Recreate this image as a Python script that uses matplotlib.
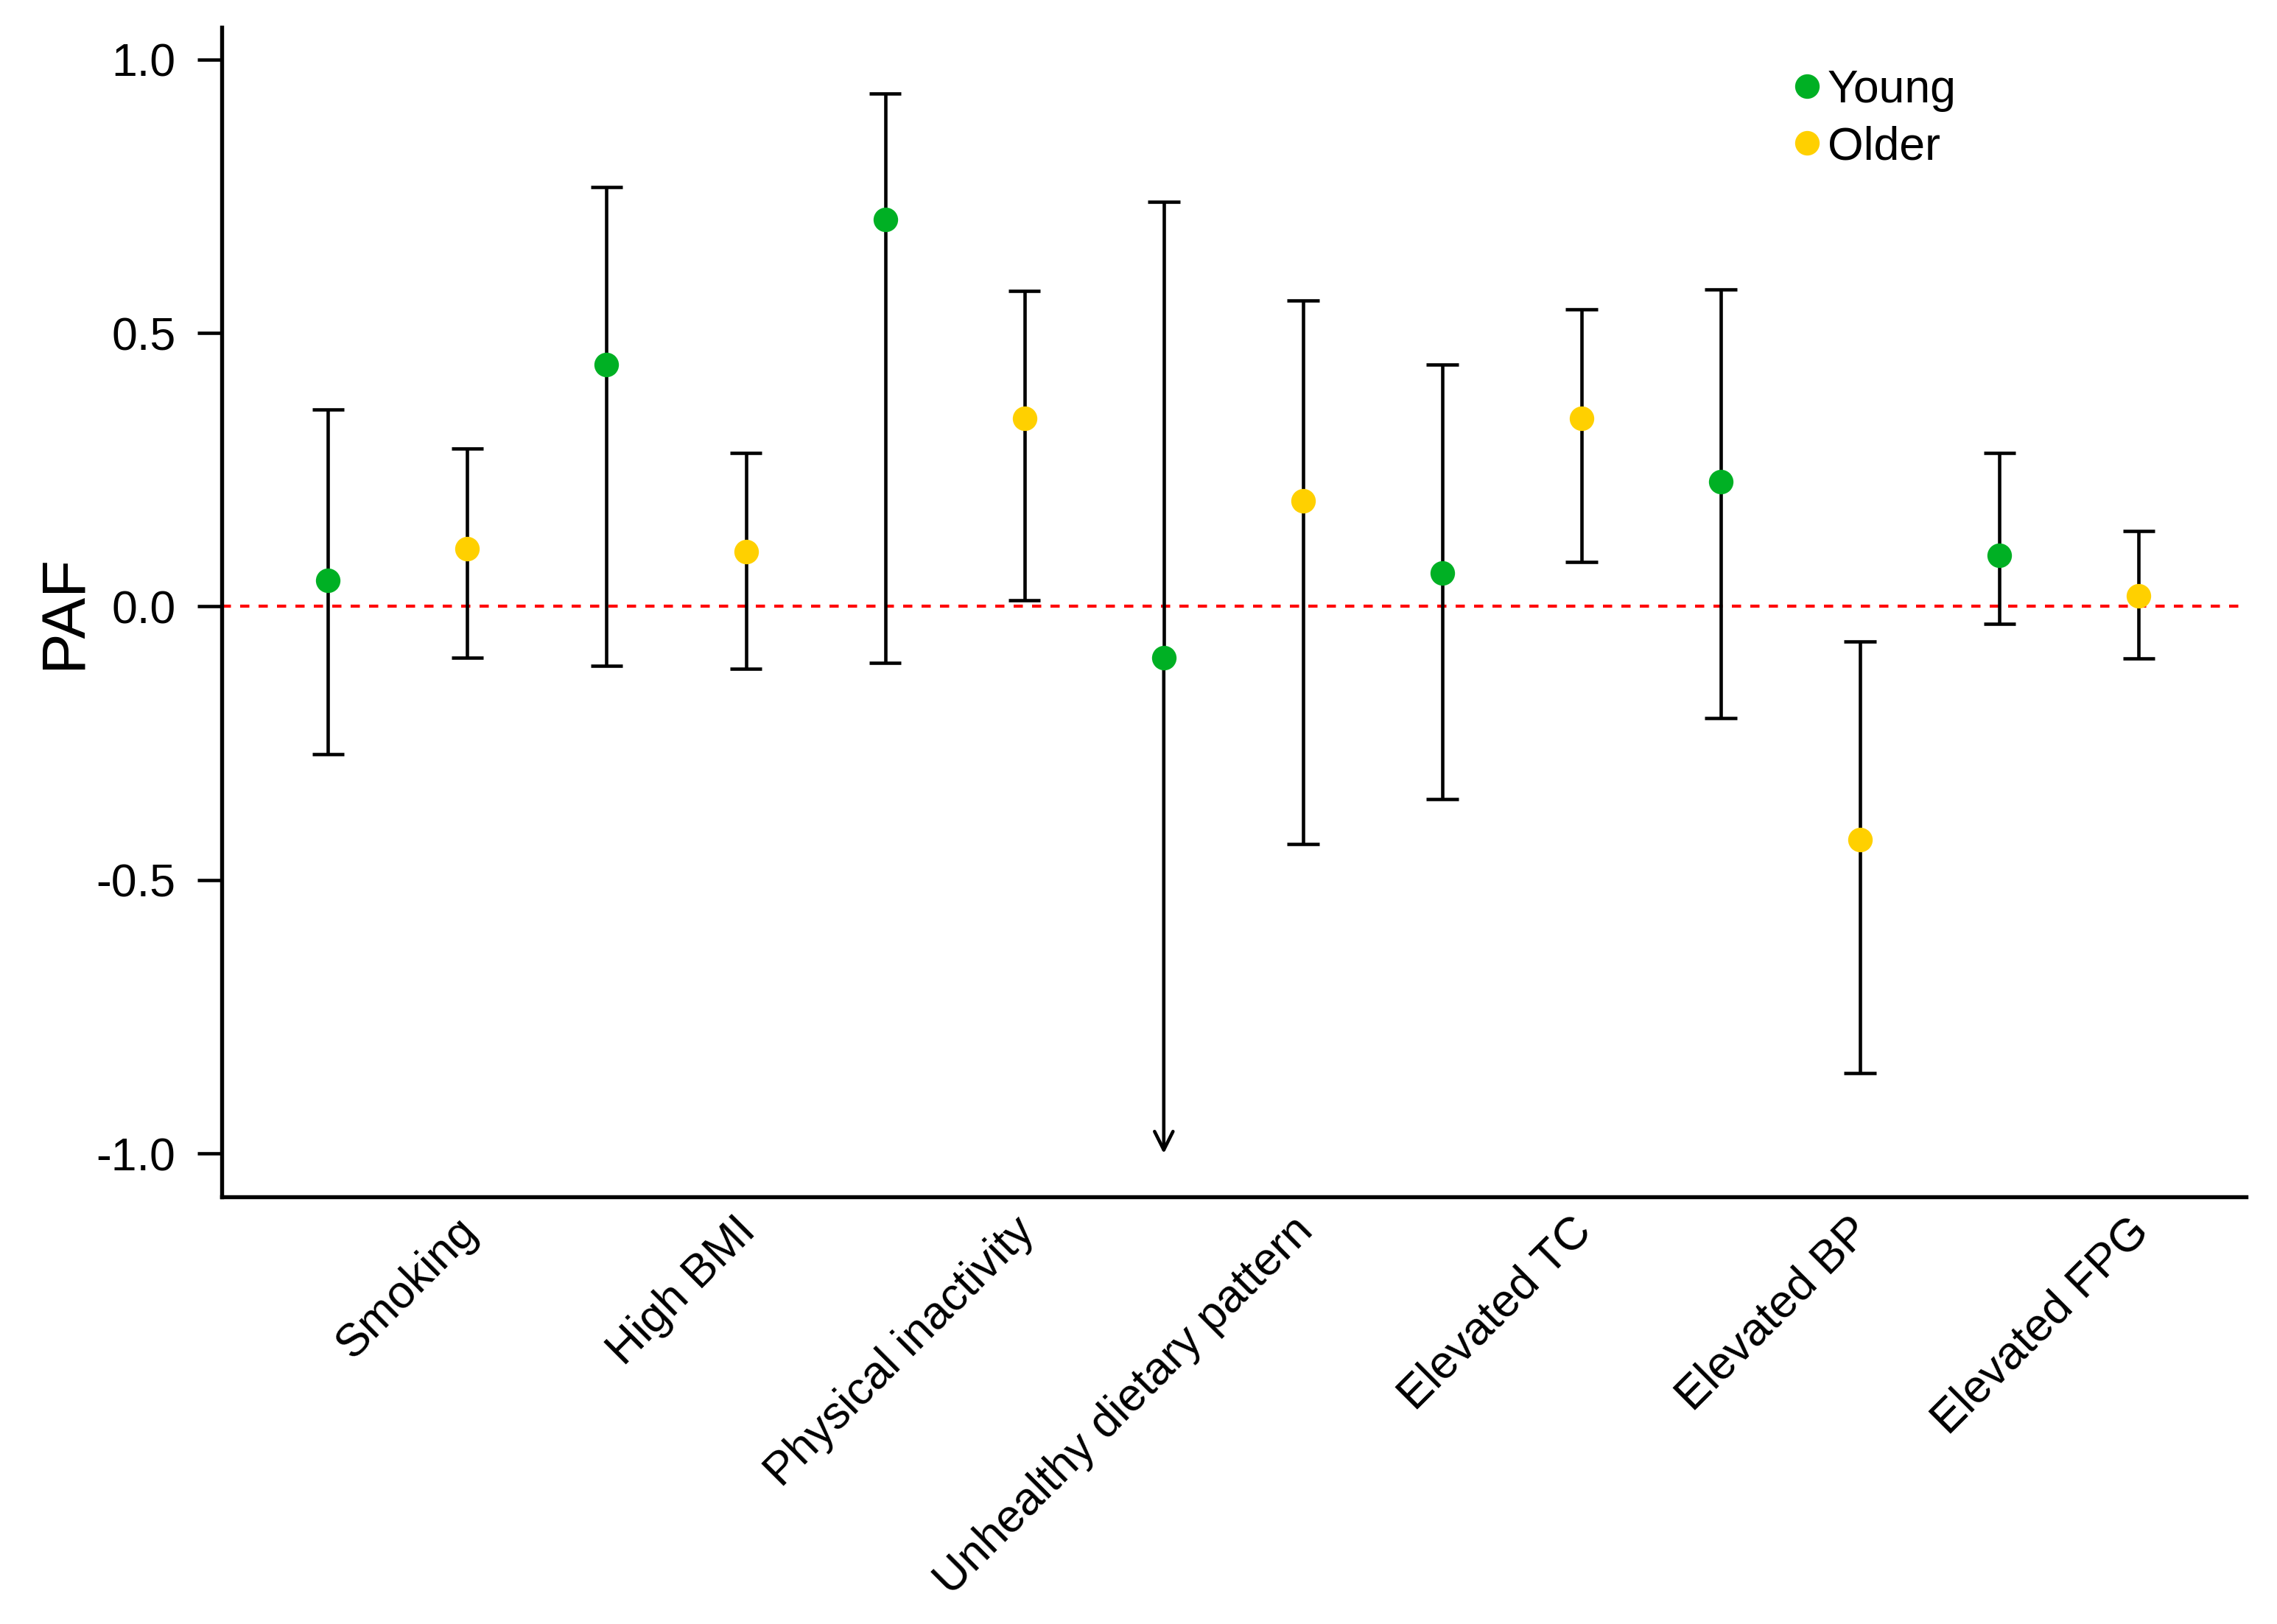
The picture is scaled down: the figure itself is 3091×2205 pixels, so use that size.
import matplotlib
matplotlib.use('Agg')
import matplotlib.pyplot as plt
from matplotlib.transforms import ScaledTranslation

# Data
factors = ['Smoking', 'High BMI', 'Physical inactivity', 'Unhealthy dietary pattern',
           'Elevated TC', 'Elevated BP', 'Elevated FPG']
young_paf = [0.048, 0.442, 0.707, -0.093, 0.061, 0.228, 0.093]
young_low = [-0.27, -0.109, -0.103, -1.0, -0.352, -0.204, -0.032]
young_high = [0.36, 0.766, 0.938, 0.739, 0.442, 0.580, 0.281]
older_paf = [0.106, 0.100, 0.344, 0.193, 0.344, -0.426, 0.019]
older_low = [-0.093, -0.114, 0.011, -0.434, 0.082, -0.853, -0.095]
older_high = [0.289, 0.281, 0.577, 0.559, 0.543, -0.064, 0.138]
truncated_young = [False, False, False, True, False, False, False]

green = '#00B024'
yellow = '#FFD000'
font_size = 15

plt.rcParams['font.family'] = 'Liberation Sans'

fig = plt.figure(figsize=(3091 / 300, 2205 / 300), dpi=300)
ax = fig.add_axes([0.0974, 0.263, 0.889, 0.720])

x_young = [2 * i + 1 for i in range(len(factors))]
x_older = [2 * i + 2 for i in range(len(factors))]

ax.axhline(0, color='red', linestyle=(0, (3, 3)), linewidth=1.0, zorder=1)

cap = 0.115
for i in range(len(factors)):
    # young
    xv = x_young[i]
    ax.vlines(xv, young_paf[i], young_high[i], color='black', linewidth=1.1, zorder=2)
    ax.hlines(young_high[i], xv - cap, xv + cap, color='black', linewidth=1.1, zorder=2)
    if truncated_young[i]:
        ax.annotate('', xy=(xv, young_low[i]), xytext=(xv, young_paf[i]),
                    arrowprops=dict(arrowstyle='->,head_length=0.6,head_width=0.3',
                                    color='black', linewidth=1.1, shrinkA=0, shrinkB=0),
                    zorder=2)
    else:
        ax.vlines(xv, young_low[i], young_paf[i], color='black', linewidth=1.1, zorder=2)
        ax.hlines(young_low[i], xv - cap, xv + cap, color='black', linewidth=1.1, zorder=2)
    # older
    xv = x_older[i]
    ax.vlines(xv, older_low[i], older_high[i], color='black', linewidth=1.1, zorder=2)
    ax.hlines([older_low[i], older_high[i]], xv - cap, xv + cap, color='black', linewidth=1.1, zorder=2)

ax.plot(x_young, young_paf, 'o', color=green, markersize=8, markeredgewidth=0, zorder=3, label='Young')
ax.plot(x_older, older_paf, 'o', color=yellow, markersize=8, markeredgewidth=0, zorder=3, label='Older')

ax.set_xlim(0.237, 14.77)
ax.set_ylim(-1.079, 1.058)
ax.set_yticks([-1.0, -0.5, 0.0, 0.5, 1.0])
ax.set_yticklabels(['-1.0', '-0.5', '0.0', '0.5', '1.0'], fontsize=font_size)
ax.tick_params(axis='y', length=8, width=1.1, pad=7)
ax.set_xticks(x_older)
ax.set_xticklabels(factors, rotation=45, ha='right', rotation_mode='anchor', fontsize=font_size)
ax.tick_params(axis='x', length=0, pad=7)
shift = ScaledTranslation(-4 / 72, 3 / 72, fig.dpi_scale_trans)
for lbl in ax.get_xticklabels():
    lbl.set_transform(lbl.get_transform() + shift)
ax.set_ylabel('PAF', fontsize=20, labelpad=1)

ax.spines['top'].set_visible(False)
ax.spines['right'].set_visible(False)
ax.spines['left'].set_linewidth(1.3)
ax.spines['bottom'].set_linewidth(1.3)

ax.legend(loc='upper left', bbox_to_anchor=(0.766, 0.985), frameon=False,
          fontsize=font_size, handlelength=0.5, handletextpad=0.2,
          labelspacing=0.3, borderpad=0, markerscale=1.0)

plt.savefig('out.png', dpi=300)
